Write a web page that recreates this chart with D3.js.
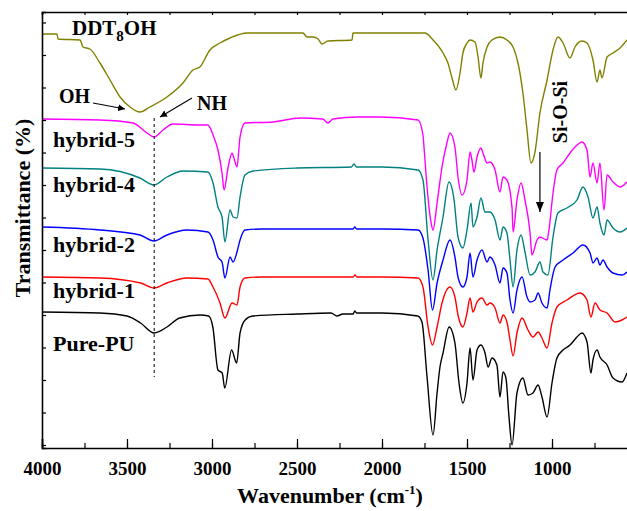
<!DOCTYPE html>
<html>
<head>
<meta charset="utf-8">
<script src="https://cdn.jsdelivr.net/npm/d3@7"></script>
<style>
  body { margin: 0; background: #fff; }
  svg { display: block; font-family: "Liberation Serif", "Times New Roman", serif; font-weight: bold; }
</style>
</head>
<body>
<div id="chart"></div>
<script>
// wavenumber (cm-1), transmittance (offset, a.u.)
const ddt8oh = [[4000,414],[3912,414],[3906,409],[3776,408],[3759,401],[3718,399],[3659,385],[3600,368],[3541,351],[3482,341],[3424,336],[3365,341],[3265,351],[3171,365],[3112,378],[3071,381],[3012,398],[2953,405],[2894,410],[2794,415],[2465,415],[2441,411],[2406,411],[2376,409],[2353,404],[2318,407],[2176,408],[2171,415],[1747,415],[1700,408],[1641,395],[1612,385],[1588,370],[1565,358],[1541,375],[1524,395],[1500,405],[1482,408],[1453,406],[1435,391],[1418,370],[1406,385],[1382,401],[1353,408],[1306,411],[1265,408],[1229,401],[1200,385],[1171,355],[1147,318],[1124,285],[1100,296],[1071,335],[1029,368],[994,398],[965,411],[935,405],[894,390],[865,401],[824,407],[794,405],[759,388],[735,366],[718,378],[706,370],[676,391],[641,395],[600,400],[559,408]];

const hybrid5 = [[4000,329],[3659,328],[3465,325],[3382,315],[3341,311],[3288,318],[3229,324],[3071,323],[3024,323],[2994,313],[2965,298],[2941,275],[2929,258],[2906,280],[2882,295],[2871,290],[2853,281],[2835,311],[2806,325],[2641,326],[2482,330],[2350,329],[2318,325],[2290,329],[2141,331],[2012,331],[1788,328],[1759,313],[1753,301],[1735,261],[1712,226],[1700,218],[1676,245],[1647,281],[1618,305],[1600,315],[1571,301],[1553,271],[1529,253],[1500,268],[1482,296],[1471,288],[1459,276],[1441,291],[1418,300],[1406,295],[1382,285],[1365,286],[1335,278],[1306,256],[1288,271],[1265,268],[1235,240],[1229,216],[1206,248],[1182,265],[1159,248],[1129,215],[1118,193],[1088,208],[1071,211],[1029,208],[1018,218],[994,255],[971,278],[935,285],[894,295],[853,303],[824,306],[794,298],[776,271],[759,285],[735,265],[718,285],[694,238],[676,273],[641,266],[600,261],[559,266]];

const hybrid4 = [[4000,280],[3659,279],[3424,270],[3341,263],[3265,271],[3171,277],[3024,276],[2994,265],[2965,241],[2941,231],[2924,206],[2894,238],[2876,231],[2853,230],[2835,251],[2806,273],[2759,277],[2500,280],[2180,281],[2165,284],[2150,281],[2000,281],[1788,278],[1759,268],[1729,208],[1700,168],[1676,198],[1641,231],[1606,266],[1576,248],[1553,211],[1524,200],[1500,218],[1476,245],[1465,221],[1441,231],[1418,250],[1394,236],[1365,236],[1335,228],[1306,208],[1288,221],[1265,215],[1247,188],[1229,161],[1206,198],[1182,213],[1159,196],[1129,173],[1100,176],[1071,186],[1053,176],[1024,173],[994,211],[965,235],[912,240],[853,248],[818,261],[788,251],[759,230],[735,241],[718,225],[694,213],[676,228],[641,220],[600,216],[559,220]];

const hybrid2 = [[4000,221],[3659,218],[3424,213],[3341,207],[3265,213],[3147,218],[3024,216],[2994,208],[2965,191],[2941,186],[2924,170],[2894,191],[2876,186],[2853,196],[2835,208],[2806,218],[2700,219],[2300,219],[2170,219],[2160,221],[2150,219],[2000,219],[1788,218],[1759,210],[1729,178],[1703,138],[1676,165],[1641,188],[1600,208],[1571,191],[1553,171],[1524,161],[1500,171],[1482,195],[1465,171],[1441,188],[1412,198],[1382,186],[1365,191],[1335,183],[1306,165],[1288,180],[1265,175],[1247,148],[1229,135],[1206,158],[1176,171],[1147,151],[1129,146],[1100,148],[1082,155],[1059,145],[1029,140],[1012,158],[982,181],[935,188],[876,195],[818,203],[776,195],[759,185],[735,190],[718,183],[700,188],[676,181],[641,175],[588,173],[559,176]];

const hybrid1 = [[4000,171],[3660,170],[3420,165],[3340,160],[3265,165],[3147,170],[3024,169],[2994,161],[2953,145],[2924,130],[2882,145],[2853,143],[2835,161],[2806,170],[2700,171],[2400,171],[2170,171],[2159,173],[2148,171],[2000,171],[1788,170],[1759,161],[1729,121],[1703,103],[1676,121],[1647,145],[1600,161],[1571,151],[1553,133],[1524,121],[1500,135],[1482,150],[1465,136],[1441,146],[1412,150],[1382,143],[1365,145],[1335,140],[1306,125],[1288,133],[1265,126],[1247,108],[1229,92],[1206,115],[1176,130],[1141,118],[1112,111],[1082,116],[1059,110],[1029,100],[1000,125],[971,141],[912,148],[835,155],[794,148],[771,131],[747,145],[718,138],[676,135],[629,126],[588,128],[559,131]];

const purePU = [[4000,136],[3660,135],[3500,132],[3420,125],[3340,115],[3265,121],[3190,130],[3070,133],[3020,132],[2995,121],[2965,78],[2940,75],[2925,60],[2885,98],[2855,85],[2835,115],[2805,128],[2760,132],[2500,134],[2300,135],[2265,132],[2230,134],[2170,134],[2160,137],[2150,135],[2000,135],[1790,132],[1765,126],[1735,71],[1700,13],[1676,55],[1659,81],[1641,95],[1605,121],[1571,105],[1547,65],[1524,45],[1500,65],[1482,100],[1465,68],[1441,98],[1418,103],[1394,95],[1376,81],[1353,90],[1324,83],[1306,51],[1288,76],[1271,70],[1253,31],[1235,3],[1206,55],[1171,70],[1141,53],[1112,55],[1082,63],[1059,51],[1029,31],[1000,65],[971,90],[935,98],[894,103],[853,111],[824,115],[794,106],[771,75],[759,88],[735,98],[718,91],[676,83],[641,70],[588,66],[559,75]];

const seriesData = [ddt8oh, hybrid5, hybrid4, hybrid2, hybrid1, purePU];
const seriesColors = ["#808000", "#ff00ff", "#008080", "#0000ff", "#ff0000", "#000000"];
const curveLabels = ["hybrid-5", "hybrid-4", "hybrid-2", "hybrid-1", "Pure-PU"];
const xTicks = [4000, 3500, 3000, 2500, 2000, 1500, 1000];
const nhWn = 3340;
const siosiWn = 1071;

const margin = {top: 12, left: 42},
	width = 627, height = 511,
	plotW = 595, plotH = 436;

const svg = d3.select("#chart").append("svg")
	.attr("width", width)
	.attr("height", height);

const x = d3.scaleLinear().domain([4000, 500]).range([margin.left, margin.left + plotW]);
const y = d3.scaleLinear().domain([0, 436]).range([margin.top + plotH, margin.top]);

const defs = svg.append("defs");
defs.append("clipPath").attr("id", "clip")
	.append("rect")
	.attr("x", margin.left).attr("y", margin.top)
	.attr("width", plotW).attr("height", plotH);

defs.append("marker")
	.attr("id", "arrow")
	.attr("viewBox", "0 0 10 10")
	.attr("refX", 10).attr("refY", 5)
	.attr("markerWidth", 7).attr("markerHeight", 7)
	.attr("markerUnits", "userSpaceOnUse")
	.attr("orient", "auto")
	.append("path").attr("d", "M0,0 L10,5 L0,10 z").attr("fill", "#000");
defs.append("marker")
	.attr("id", "arrowBig")
	.attr("viewBox", "0 0 10 10")
	.attr("refX", 10).attr("refY", 5)
	.attr("markerWidth", 11).attr("markerHeight", 10)
	.attr("markerUnits", "userSpaceOnUse")
	.attr("orient", "auto")
	.append("path").attr("d", "M0,1 L10,5 L0,9 z").attr("fill", "#000");

const line = d3.line()
	.x(d => x(d[0]))
	.y(d => y(d[1]))
	.curve(d3.curveMonotoneX);

svg.append("g")
	.attr("clip-path", "url(#clip)")
	.selectAll("path")
	.data(seriesData)
	.enter().append("path")
	.attr("d", line)
	.attr("fill", "none")
	.attr("stroke", (d, i) => seriesColors[i])
	.attr("stroke-width", 1.4)
	.attr("stroke-linejoin", "round");

// axes
const xMinor = d3.range(4000, 499, -250);
svg.append("g")
	.attr("transform", "translate(0," + (margin.top + plotH) + ")")
	.call(d3.axisBottom(x).tickValues(xMinor).tickSize(-5).tickFormat(""))
	.call(g => g.select(".domain").remove());
const xAxis = svg.append("g")
	.attr("transform", "translate(0," + (margin.top + plotH) + ")")
	.call(d3.axisBottom(x).tickValues(xTicks).tickSize(-9).tickPadding(14).tickFormat(d3.format("d")));
xAxis.selectAll("text").attr("font-size", 19).attr("font-family", "Liberation Serif").attr("font-weight", "bold").attr("fill", "#000");

svg.append("g")
	.attr("transform", "translate(0," + margin.top + ")")
	.call(d3.axisTop(x).tickValues(xMinor).tickSize(-3).tickFormat(""));

svg.append("g")
	.attr("transform", "translate(" + margin.left + ",0)")
	.call(d3.axisLeft(y).tickValues(d3.range(3, 436, 32.5)).tickSize(-4).tickFormat(""));

svg.selectAll(".domain").attr("stroke-width", 1.6);
svg.selectAll(".tick line").attr("stroke-width", 1.2);

// axis titles
svg.append("text")
	.attr("transform", "translate(30,208) rotate(-90)")
	.attr("text-anchor", "middle")
	.attr("font-size", 22)
	.text("Transmittance (%)");

const xt = svg.append("text")
	.attr("x", 330)
	.attr("y", 503)
	.attr("text-anchor", "middle")
	.attr("font-size", 22);
xt.append("tspan").text("Wavenumber (cm");
xt.append("tspan").attr("font-size", 13).attr("dy", -9).text("-1");
xt.append("tspan").attr("dy", 9).text(")");

// curve labels
const labelY = [147, 192, 252, 298, 351];
svg.selectAll(".clabel")
	.data(curveLabels)
	.enter().append("text")
	.attr("class", "clabel")
	.attr("x", 53)
	.attr("y", (d, i) => labelY[i])
	.attr("font-size", 22)
	.text(d => d);

const dt = svg.append("text").attr("x", 72).attr("y", 35).attr("font-size", 21);
dt.append("tspan").text("DDT");
dt.append("tspan").attr("font-size", 15).attr("dy", 6).text("8");
dt.append("tspan").attr("dy", -6).text("OH");

// OH / NH annotations
svg.append("text").attr("x", 59).attr("y", 103).attr("font-size", 20).text("OH");
svg.append("line")
	.attr("x1", 93).attr("y1", 103).attr("x2", 125).attr("y2", 109)
	.attr("stroke", "#000").attr("stroke-width", 1.1)
	.attr("marker-end", "url(#arrow)");
svg.append("text").attr("x", 197).attr("y", 110).attr("font-size", 20).text("NH");
svg.append("line")
	.attr("x1", 192).attr("y1", 98).attr("x2", 160).attr("y2", 117)
	.attr("stroke", "#000").attr("stroke-width", 1.1)
	.attr("marker-end", "url(#arrow)");

svg.append("line")
	.attr("x1", x(nhWn)).attr("x2", x(nhWn))
	.attr("y1", 118).attr("y2", 377)
	.attr("stroke", "#000").attr("stroke-width", 1)
	.attr("stroke-dasharray", "3,3");

// Si-O-Si
svg.append("text")
	.attr("transform", "translate(567,112) rotate(-90)")
	.attr("text-anchor", "middle")
	.attr("font-size", 20)
	.text("Si-O-Si");
svg.append("line")
	.attr("x1", x(siosiWn)).attr("x2", x(siosiWn))
	.attr("y1", 152).attr("y2", 212)
	.attr("stroke", "#000").attr("stroke-width", 1.2)
	.attr("marker-end", "url(#arrowBig)");
</script>
</body>
</html>
